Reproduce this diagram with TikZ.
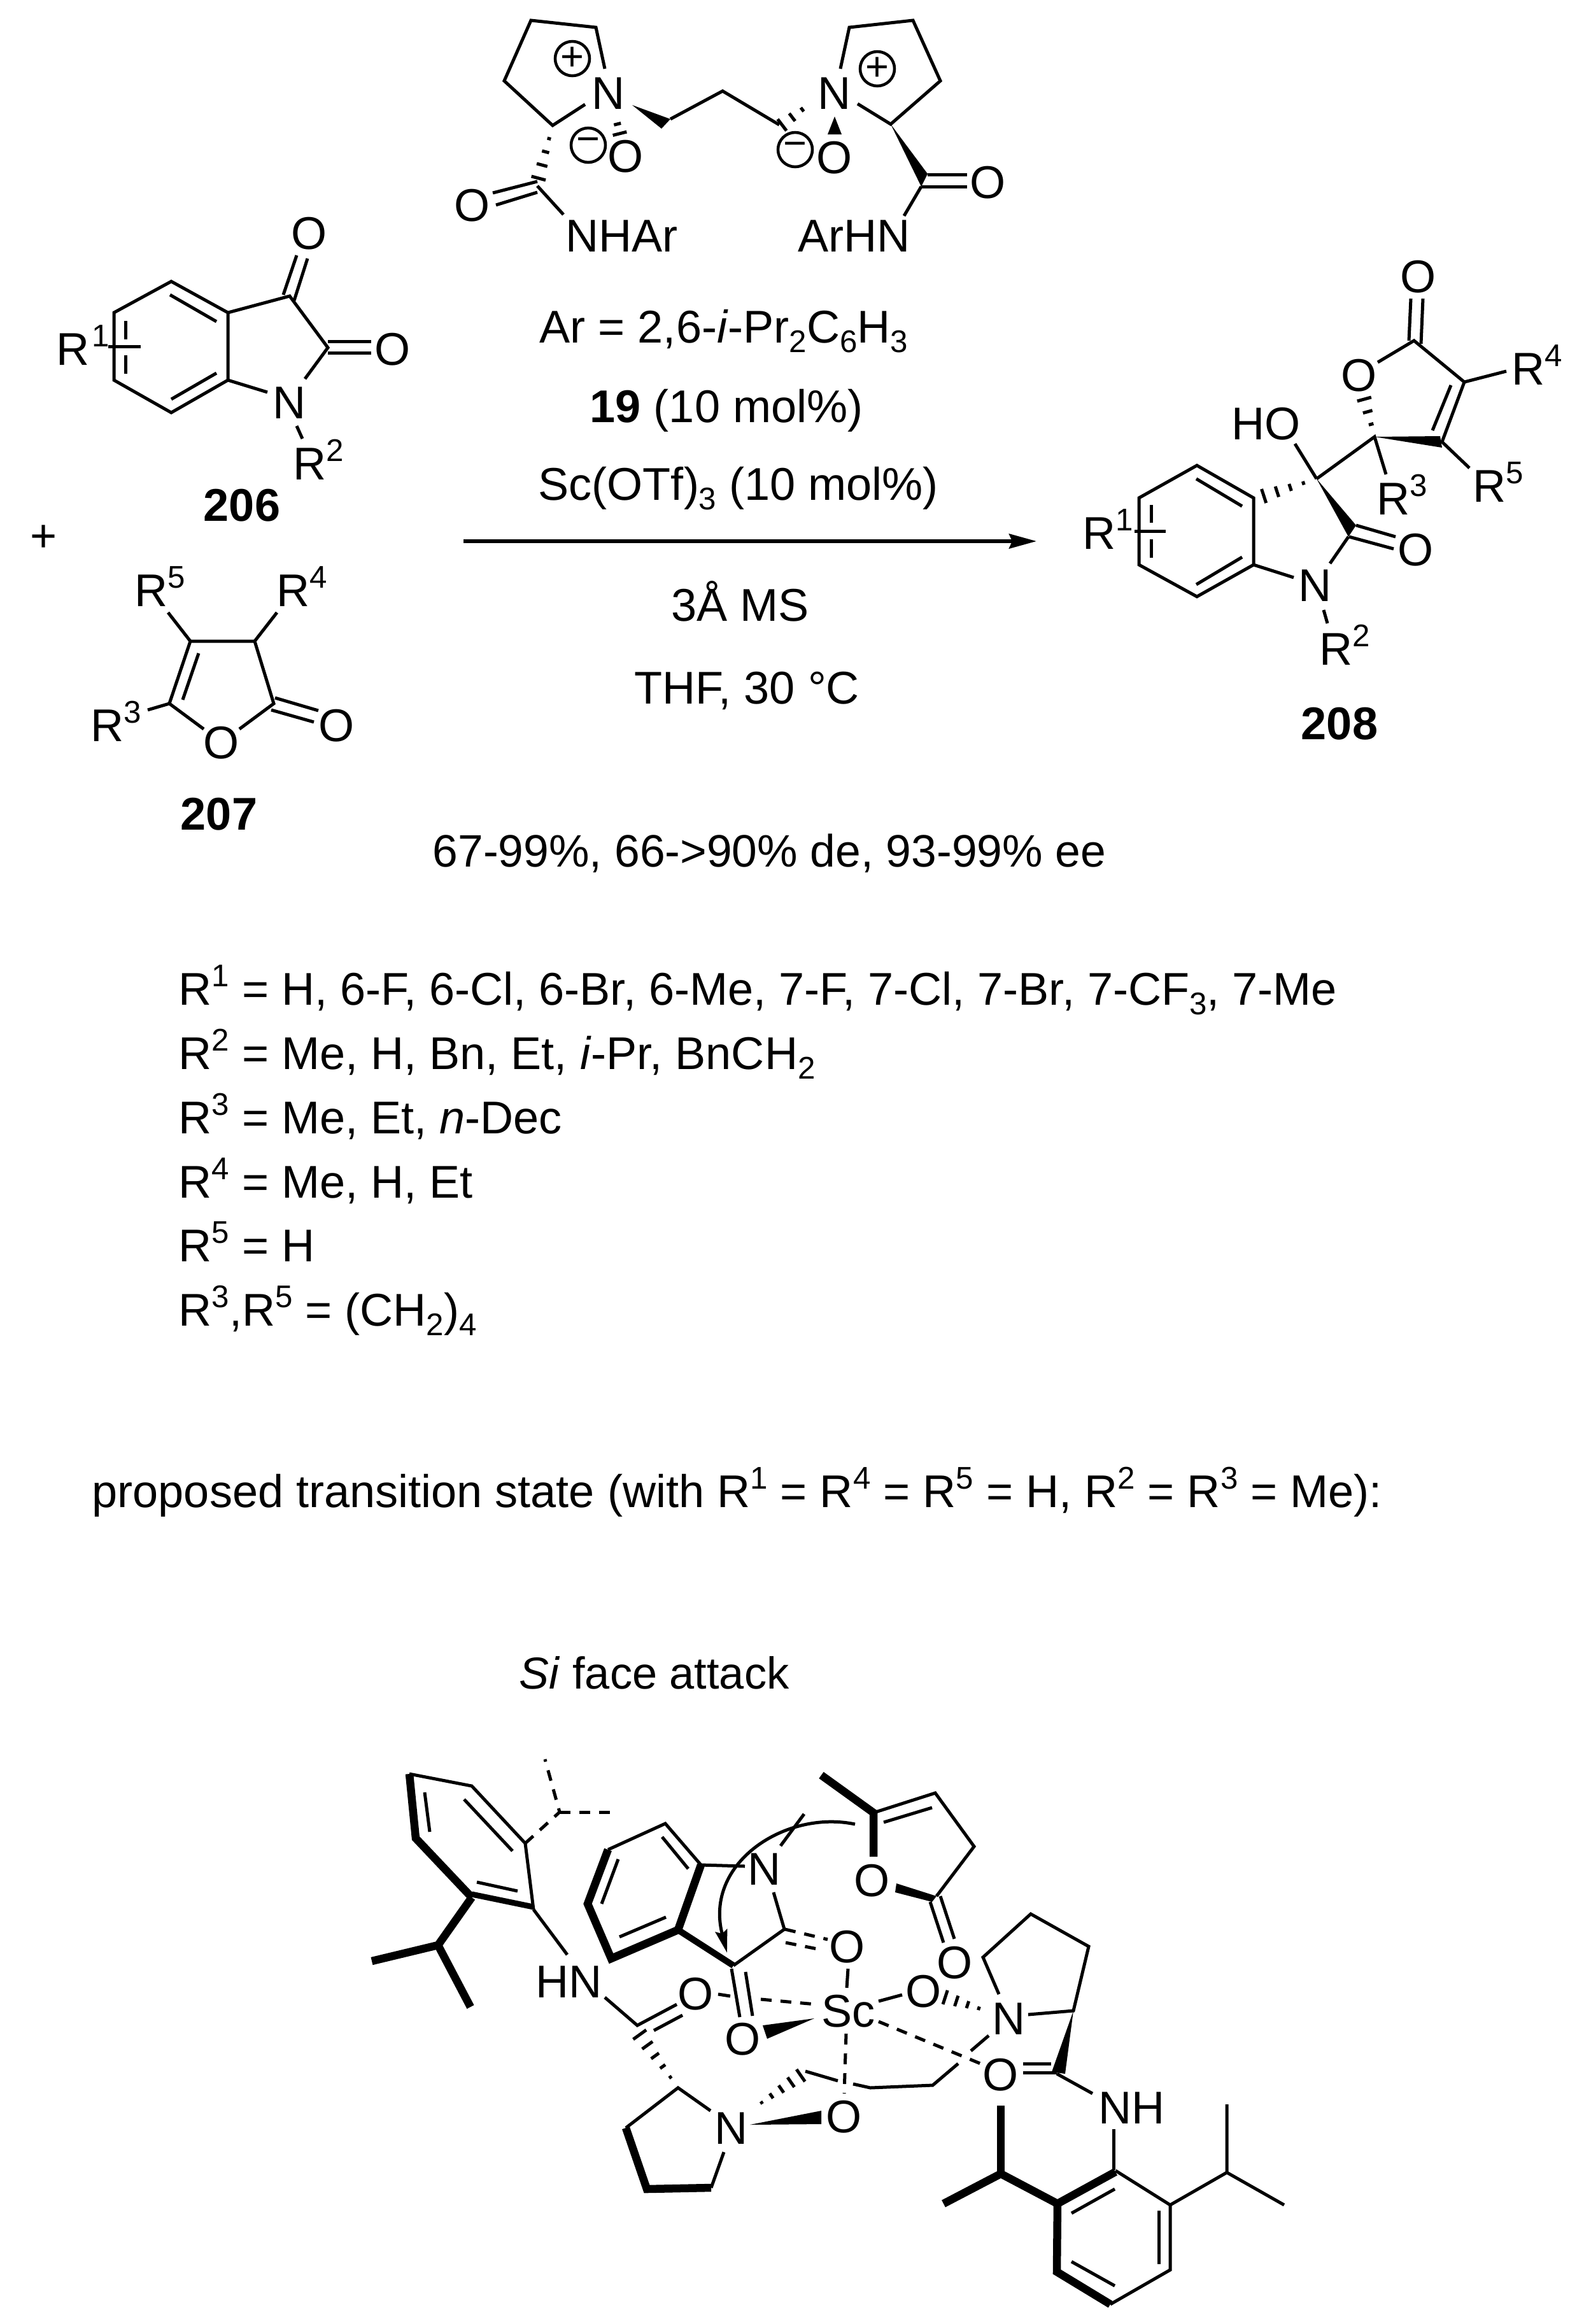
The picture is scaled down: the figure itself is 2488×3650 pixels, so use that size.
\documentclass[tikz,border=0pt]{standalone}
\usepackage{fontspec}
\setmainfont{Liberation Sans}
\usetikzlibrary{calc,arrows.meta}
\newcommand\sz{\fontsize{20.5}{24}\selectfont}
\newcommand\Sp[1]{\raisebox{8.2pt}{\fontsize{14}{14}\selectfont #1}}
\newcommand\Sb[1]{\raisebox{-4.3pt}{\fontsize{14}{14}\selectfont #1}}
\newcommand\hashb[4]{%
  \foreach \i in {1,...,#3}{%
    \pgfmathsetmacro\hT{\i/(#3+0.15)}%
    \pgfmathsetmacro\hW{0.5*#4*\hT*0.01}%
    \coordinate (hp) at ($(#1)!\hT!(#2)$);
    \draw[bond] ($(hp)!\hW cm!90:(#2)$) -- ($(hp)!\hW cm!-90:(#2)$);
  }%
}
\tikzset{
  bond/.style={line width=0.05cm,line cap=butt,line join=miter,black},
  bold/.style={line width=0.125cm,line cap=butt,line join=miter,black},
  dsh/.style={bond,dash pattern=on 0.17cm off 0.14cm},
  wedge/.style={fill=black,draw=none},
  atom/.style={inner sep=0pt,font=\sz},
  lab/.style={inner sep=0pt,font=\sz,anchor=base west},
  cmp/.style={inner sep=0pt,font=\sz\bfseries,anchor=base},
  chg/.style={circle,draw,line width=0.045cm,minimum size=0.54cm,inner sep=0pt,font=\fontsize{18}{18}\selectfont},
}
\begin{document}
\begin{tikzpicture}[x=0.01cm,y=-0.01cm]
\useasboundingbox (0,0) rectangle (2488,3650);
% ---- catalyst ----
\node[atom] (NL) at (956,147) {N};
\node[atom] (NR) at (1311,147) {N};
\node[atom] (OL) at (983,246) {O};
\node[atom] (OR) at (1311,248) {O};
\node[atom] (OAL) at (742,323) {O};
\node[atom] (OAR) at (1552,287) {O};
\node[lab] (nhar) at (888,395) {NHAr};
\node[lab] (arhn) at (1253,395) {ArHN};
\node[chg] (pL) at (899,92) {+};
\node[chg] (pR) at (1378,108) {+};
\node[chg] (mL) at (924,228) {−};
\node[chg] (mR) at (1249,235) {−};
\draw[bond] (950,108) -- (936,43) -- (834,32) -- (792,127) -- (868,197) -- (919,164);
\fill[wedge] (993,165) -- (1039,202) -- (1053,187) -- cycle;
\draw[bond] (1053,187) -- (1135,143) -- (1224,196);
\hashb{1276,160}{1226,198}{3}{24}
\draw[bond] (1320,108) -- (1334,43) -- (1434,32) -- (1477,127) -- (1399,195) -- (1347,163);
\fill[wedge] (1399,195) -- (1457,273) -- (1447,293) -- cycle;
\draw[bond] (1457,274) -- (1519,274);
\draw[bond] (1447,293) -- (1519,293);
\draw[bond] (1447,293) -- (1420,339);
\fill[wedge] (1311,183) -- (1300,211) -- (1322,211) -- cycle;
\hashb{966,180}{974,212}{2}{24}
\hashb{868,197}{845,283}{4}{24}
\draw[bond] (844,285) -- (774,303);
\draw[bond] (844,302) -- (779,322);
\draw[bond] (844,292) -- (885,337);
% ---- 206 ----
\node[lab] (r1a) at (88,573) {R\hspace{1pt}\Sp{1}};
\node[atom] (o206a) at (486,367) {O};
\node[atom] (o206b) at (617,549) {O};
\node[atom] (n206) at (455,633) {N};
\node[lab] (r2a) at (460,753) {R\Sp{2}};
\node[cmp] (c206) at (380,818) {206};
\node[inner sep=0pt,font=\sz] (plus) at (69,846) {+};
\draw[bond] (358,491) -- (269,442) -- (179,491) -- (179,597) -- (269,648) -- (358,597) -- cycle;
\draw[bond] (267,463) -- (340,505);
\draw[bond] (269,627) -- (340,586);
\draw[bond] (197,504) -- (197,533);
\draw[bond] (197,558) -- (197,587);
\draw[bond] (170,544) -- (221,544);
\draw[bond] (358,491) -- (455,465) -- (515,546) -- (479,595);
\draw[bond] (358,597) -- (420,616);
\draw[bond] (445,463) -- (466,401);
\draw[bond] (462,472) -- (483,406);
\draw[bond] (515,536) -- (583,536);
\draw[bond] (515,554) -- (583,554);
\draw[bond] (466,669) -- (475,689);
% ---- 207 ----
\node[atom] (o207r) at (348,1167) {O};
\node[atom] (o207c) at (529,1140) {O};
\node[lab] (r5a) at (211,952) {R\Sp{5}};
\node[lab] (r4a) at (434,952) {R\Sp{4}};
\node[lab] (r3a) at (142,1164) {R\Sp{3}};
\node[cmp] (c207) at (344,1303) {207};
\draw[bond] (320,1145) -- (266,1105) -- (299,1007) -- (400,1007) -- (430,1105) -- (376,1145);
\draw[bond] (312,1026) -- (287,1099);
\draw[bond] (432,1096) -- (500,1116);
\draw[bond] (426,1115) -- (493,1134);
\draw[bond] (299,1007) -- (264,962);
\draw[bond] (400,1007) -- (435,962);
\draw[bond] (266,1105) -- (232,1115);
% ---- conditions ----
\node[lab] (t1) at (847,538) {Ar = 2,6-\textit{i}-Pr\Sb{2}C\Sb{6}H\Sb{3}};
\node[lab] (t2) at (926,663) {\textbf{19} (10 mol\%)};
\node[lab] (t3) at (845,785) {Sc(OTf)\Sb{3} (10 mol\%)};
\coordinate (as) at (728,850);
\coordinate (ae) at (1628,850);
\draw[line width=0.055cm,-{Stealth[length=0.43cm,width=0.23cm,inset=0.05cm]}] (as) -- (ae);
\node[lab] (t4) at (1054,975) {3Å MS};
\node[lab] (t5) at (996,1105) {THF, 30 °C};
\node[lab,font=\fontsize{20.3}{24}\selectfont] (t6) at (679,1361) {67-99\%, 66->90\% de, 93-99\% ee};
% ---- 208 ----
\node[lab] (r1c) at (1700,862) {R\Sp{1}};
\node[lab] (ho) at (1934,690) {HO};
\node[atom] (o208a) at (2224,864) {O};
\node[atom] (n208) at (2066,920) {N};
\node[lab] (r2c) at (2072,1044) {R\Sp{2}};
\node[cmp] (c208) at (2104,1161) {208};
\node[lab] (r3c) at (2162,808) {R\Sp{3}};
\node[atom] (o208r) at (2135,590) {O};
\node[atom] (o208c) at (2228,435) {O};
\node[lab] (r4c) at (2374,604) {R\Sp{4}};
\node[lab] (r5c) at (2313,788) {R\Sp{5}};
\draw[bond] (1969,782) -- (1880,731) -- (1789,782) -- (1789,887) -- (1880,937) -- (1969,887) -- cycle;
\draw[bond] (1879,752) -- (1951,795);
\draw[bond] (1879,918) -- (1951,875);
\draw[bond] (1808,793) -- (1808,821);
\draw[bond] (1808,847) -- (1808,876);
\draw[bond] (1782,834) -- (1831,834);
\hashb{2068,752}{1982,780}{4}{24}
\draw[bond] (2034,697) -- (2068,752);
\fill[wedge] (2068,752) -- (2130,825) -- (2118,843) -- cycle;
\draw[bond] (2130,825) -- (2192,843);
\draw[bond] (2119,843) -- (2189,862);
\draw[bond] (2118,843) -- (2089,885);
\draw[bond] (1969,887) -- (2032,907);
\draw[bond] (2079,958) -- (2085,979);
\draw[bond] (2068,752) -- (2159,686) -- (2177,745);
\hashb{2159,686}{2142,624}{3}{24}
\draw[bond] (2164,569) -- (2221,535) -- (2300,600) -- (2265,694) -- (2308,735);
\draw[bond] (2213,535) -- (2216,469);
\draw[bond] (2232,540) -- (2235,469);
\fill[wedge] (2159,686) -- (2262,685) -- (2265,703) -- cycle;
\draw[bond] (2279,605) -- (2250,676);
\draw[bond] (2300,600) -- (2366,583);
% ---- substituent list ----
\node[lab] (l1) at (280,1578) {R\Sp{1} = H, 6-F, 6-Cl, 6-Br, 6-Me, 7-F, 7-Cl, 7-Br, 7-CF\Sb{3}, 7-Me};
\node[lab] (l2) at (280,1679) {R\Sp{2} = Me, H, Bn, Et, \textit{i}-Pr, BnCH\Sb{2}};
\node[lab] (l3) at (280,1780) {R\Sp{3} = Me, Et, \textit{n}-Dec};
\node[lab] (l4) at (280,1881) {R\Sp{4} = Me, H, Et};
\node[lab] (l5) at (280,1981) {R\Sp{5} = H};
\node[lab] (l6) at (280,2082) {R\Sp{3},R\Sp{5} = (CH\Sb{2})\Sb{4}};
\node[lab] (pt) at (144,2367) {proposed transition state (with R\Sp{1} = R\Sp{4} = R\Sp{5} = H, R\Sp{2} = R\Sp{3} = Me):};
\node[lab,font=\fontsize{20}{24}\selectfont] (si) at (815,2652) {\textit{Si} face attack};
% ---- transition state: left aryl ----
\node[lab] (hnl) at (841,3137) {HN};
\draw[bond] (643,2786) -- (741,2805) -- (825,2895) -- (838,2999);
\draw[bold] (643,2786) -- (653,2887) -- (741,2980);
\draw[bold,line width=0.09cm] (741,2975) -- (838,2995);
\draw[bond] (667,2815) -- (675,2877);
\draw[bond] (729,2826) -- (805,2907);
\draw[bond] (749,2956) -- (813,2970);
\draw[dsh] (825,2895) -- (879,2846) -- (856,2763);
\draw[dsh] (879,2846) -- (962,2846);
\draw[bold] (741,2980) -- (688,3055) -- (584,3080);
\draw[bold] (688,3055) -- (739,3152);
\draw[bond] (838,2999) -- (891,3070);
\draw[bond] (950,3137) -- (1001,3181) -- (1063,3148);
\draw[bond] (1027,3189) -- (1072,3165);
\node[atom] (ocl) at (1093,3132) {O};
\hashb{1065,3279}{1003,3193}{5}{26}
% lower pyrrolidine
\node[atom] (npl) at (1149,3343) {N};
\node[atom] (onl) at (1326,3325) {O};
\draw[bond] (983,3342) -- (1065,3279) -- (1116,3315);
\draw[bold] (983,3342) -- (1016,3438) -- (1117,3436);
\draw[bond] (1117,3436) -- (1137,3380);
\fill[wedge] (1178,3337) -- (1290,3315) -- (1290,3336) -- cycle;
\hashb{1181,3313}{1260,3258}{5}{24}
\draw[bond] (1265,3253) -- (1316,3268);
\draw[bond] (1340,3273) -- (1367,3279) -- (1465,3275) -- (1505,3241);
\draw[bond] (1525,3221) -- (1553,3197);
% isatin
\node[atom] (nis) at (1201,2936) {N};
\node[atom] (ois) at (1331,3058) {O};
\node[atom] (oisb) at (1167,3203) {O};
\draw[bond] (1101,2929) -- (1045,2864) -- (955,2905);
\draw[bold] (955,2905) -- (923,2990) -- (960,3076) -- (1065,3031) -- (1101,2929);
\draw[bond] (1040,2885) -- (1081,2935);
\draw[bond] (971,2920) -- (945,2990);
\draw[bond] (973,3042) -- (1046,3011);
\draw[bond] (1101,2929) -- (1170,2931);
\draw[bond] (1226,2899) -- (1263,2849);
\draw[bond] (1215,2972) -- (1232,3030) -- (1152,3087);
\draw[bold,line width=0.1cm] (1065,3031) -- (1152,3087);
\draw[bond] (1149,3092) -- (1162,3168);
\draw[bond] (1171,3097) -- (1182,3166);
\draw[dsh] (1233,3030) -- (1300,3046);
\draw[dsh] (1234,3051) -- (1294,3063);
\draw[bond] (1332,3092) -- (1330,3122);
% Sc
\node[lab] (sc) at (1290,3183) {Sc};
\draw[bond] (1128,3132) -- (1147,3135);
\draw[dsh] (1195,3140) -- (1282,3148);
\fill[wedge] (1279,3170) -- (1198,3181) -- (1205,3202) -- cycle;
\draw[dsh] (1329,3194) -- (1326,3288);
\draw[bond] (1380,3143) -- (1417,3133);
\node[atom] (osc) at (1451,3128) {O};
\hashb{1555,3160}{1482,3136}{4}{24}
\node[atom] (npr) at (1585,3171) {N};
\draw[dsh] (1380,3175) -- (1540,3241);
\node[atom] (ocr) at (1572,3259) {O};
% right pyrrolidine
\draw[bond] (1569,3132) -- (1544,3074) -- (1619,3006) -- (1710,3057) -- (1686,3158) -- (1615,3164);
\fill[wedge] (1686,3158) -- (1652,3254) -- (1673,3257) -- cycle;
\draw[bond] (1607,3241) -- (1651,3241);
\draw[bond] (1607,3255) -- (1660,3255);
\draw[bond] (1660,3257) -- (1716,3288);
\node[lab] (nhr) at (1725,3335) {NH};
\draw[bond] (1749,3344) -- (1749,3408);
% lower aryl
\draw[bond] (1752,3409) -- (1838,3463) -- (1838,3565) -- (1744,3619);
\draw[bold] (1752,3411) -- (1661,3461) -- (1660,3568) -- (1744,3619);
\draw[bond] (1683,3476) -- (1751,3438);
\draw[bond] (1820,3472) -- (1820,3556);
\draw[bond] (1683,3552) -- (1751,3590);
\draw[bold] (1661,3461) -- (1572,3414) -- (1482,3461);
\draw[bold] (1572,3414) -- (1572,3307);
\draw[bond] (1838,3463) -- (1927,3412) -- (1927,3305);
\draw[bond] (1927,3412) -- (2017,3463);
% furanone
\node[atom] (ofu) at (1370,2954) {O};
\node[atom] (ofc) at (1500,3083) {O};
\draw[bold] (1290,2788) -- (1372,2847) -- (1372,2916);
\draw[bond] (1372,2847) -- (1469,2816) -- (1530,2900) -- (1471,2978);
\draw[bond] (1388,2862) -- (1464,2839);
\fill[wedge] (1471,2978) -- (1408,2958) -- (1406,2972) -- (1464,2987) -- cycle;
\draw[bond] (1461,2987) -- (1482,3051);
\draw[bond] (1477,2978) -- (1499,3045);
% curved arrow
\coordinate (ca) at (1343,2865);
\coordinate (cb) at (1142,3067);
\draw[bond,-{Stealth[length=0.36cm,width=0.19cm,inset=0.05cm]}] (ca) .. controls (1235,2842) and (1105,2925) .. (cb);
\end{tikzpicture}
\end{document}
